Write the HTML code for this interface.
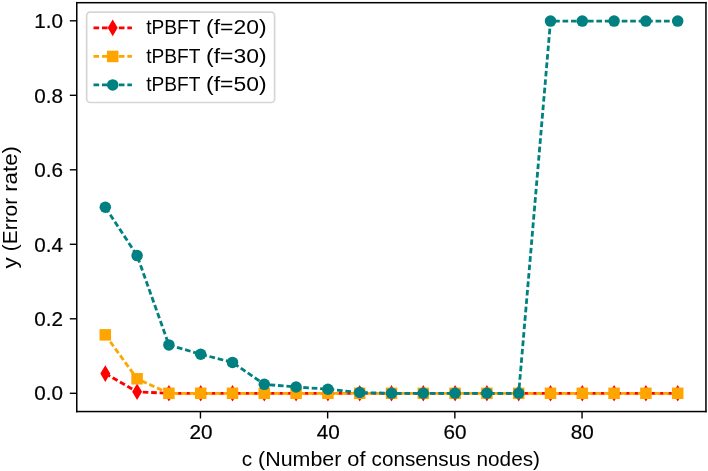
<!DOCTYPE html>
<html lang="en">
<head>
<meta charset="utf-8">
<title>tPBFT error rate vs. number of consensus nodes</title>
<style>
html,body{margin:0;padding:0;background:#ffffff;}
body{width:708px;height:471px;overflow:hidden;}
svg{display:block;will-change:transform;}
svg text{font-family:"Liberation Sans",sans-serif;font-size:20px;fill:#000000;}
svg text.tick{stroke:#000000;stroke-width:0.2px;}
</style>
</head>
<body>
<svg width="708" height="471" viewBox="0 0 708 471">
<rect x="0" y="0" width="708" height="471" fill="#ffffff"/>
<!-- series f=20 -->
<g>
<polyline points="105.3,373.573 137.1,391.811 168.9,393.3 200.7,393.3 232.5,393.3 264.3,393.3 296.1,393.3 327.9,393.3 359.7,393.3 391.5,393.3 423.3,393.3 455.1,393.3 486.9,393.3 518.7,393.3 550.5,393.3 582.3,393.3 614.1,393.3 645.9,393.3 677.7,393.3" fill="none" stroke="#ff0000" stroke-width="2.82" stroke-dasharray="5.637 2.818" stroke-dashoffset="0" stroke-linejoin="miter"/>
<path d="M105.3 365.265L110.285 373.573L105.3 381.882L100.315 373.573Z" fill="#ff0000"/>
<path d="M137.1 383.503L142.085 391.811L137.1 400.12L132.115 391.811Z" fill="#ff0000"/>
<path d="M168.9 384.991L173.885 393.3L168.9 401.609L163.915 393.3Z" fill="#ff0000"/>
<path d="M200.7 384.991L205.685 393.3L200.7 401.609L195.715 393.3Z" fill="#ff0000"/>
<path d="M232.5 384.991L237.485 393.3L232.5 401.609L227.515 393.3Z" fill="#ff0000"/>
<path d="M264.3 384.991L269.285 393.3L264.3 401.609L259.315 393.3Z" fill="#ff0000"/>
<path d="M296.1 384.991L301.085 393.3L296.1 401.609L291.115 393.3Z" fill="#ff0000"/>
<path d="M327.9 384.991L332.885 393.3L327.9 401.609L322.915 393.3Z" fill="#ff0000"/>
<path d="M359.7 384.991L364.685 393.3L359.7 401.609L354.715 393.3Z" fill="#ff0000"/>
<path d="M391.5 384.991L396.485 393.3L391.5 401.609L386.515 393.3Z" fill="#ff0000"/>
<path d="M423.3 384.991L428.285 393.3L423.3 401.609L418.315 393.3Z" fill="#ff0000"/>
<path d="M455.1 384.991L460.085 393.3L455.1 401.609L450.115 393.3Z" fill="#ff0000"/>
<path d="M486.9 384.991L491.885 393.3L486.9 401.609L481.915 393.3Z" fill="#ff0000"/>
<path d="M518.7 384.991L523.685 393.3L518.7 401.609L513.715 393.3Z" fill="#ff0000"/>
<path d="M550.5 384.991L555.485 393.3L550.5 401.609L545.515 393.3Z" fill="#ff0000"/>
<path d="M582.3 384.991L587.285 393.3L582.3 401.609L577.315 393.3Z" fill="#ff0000"/>
<path d="M614.1 384.991L619.085 393.3L614.1 401.609L609.115 393.3Z" fill="#ff0000"/>
<path d="M645.9 384.991L650.885 393.3L645.9 401.609L640.915 393.3Z" fill="#ff0000"/>
<path d="M677.7 384.991L682.685 393.3L677.7 401.609L672.715 393.3Z" fill="#ff0000"/>
</g>
<!-- series f=30 -->
<g>
<polyline points="105.3,334.865 137.1,378.784 168.9,393.3 200.7,393.3 232.5,393.3 264.3,393.3 296.1,393.3 327.9,393.3 359.7,393.3 391.5,393.3 423.3,393.3 455.1,393.3 486.9,393.3 518.7,393.3 550.5,393.3 582.3,393.3 614.1,393.3 645.9,393.3 677.7,393.3" fill="none" stroke="#ffa500" stroke-width="2.82" stroke-dasharray="5.637 2.818" stroke-dashoffset="0" stroke-linejoin="miter"/>
<rect x="99.55" y="329.115" width="11.5" height="11.5" fill="#ffa500"/>
<rect x="131.35" y="373.034" width="11.5" height="11.5" fill="#ffa500"/>
<rect x="163.15" y="387.55" width="11.5" height="11.5" fill="#ffa500"/>
<rect x="194.95" y="387.55" width="11.5" height="11.5" fill="#ffa500"/>
<rect x="226.75" y="387.55" width="11.5" height="11.5" fill="#ffa500"/>
<rect x="258.55" y="387.55" width="11.5" height="11.5" fill="#ffa500"/>
<rect x="290.35" y="387.55" width="11.5" height="11.5" fill="#ffa500"/>
<rect x="322.15" y="387.55" width="11.5" height="11.5" fill="#ffa500"/>
<rect x="353.95" y="387.55" width="11.5" height="11.5" fill="#ffa500"/>
<rect x="385.75" y="387.55" width="11.5" height="11.5" fill="#ffa500"/>
<rect x="417.55" y="387.55" width="11.5" height="11.5" fill="#ffa500"/>
<rect x="449.35" y="387.55" width="11.5" height="11.5" fill="#ffa500"/>
<rect x="481.15" y="387.55" width="11.5" height="11.5" fill="#ffa500"/>
<rect x="512.95" y="387.55" width="11.5" height="11.5" fill="#ffa500"/>
<rect x="544.75" y="387.55" width="11.5" height="11.5" fill="#ffa500"/>
<rect x="576.55" y="387.55" width="11.5" height="11.5" fill="#ffa500"/>
<rect x="608.35" y="387.55" width="11.5" height="11.5" fill="#ffa500"/>
<rect x="640.15" y="387.55" width="11.5" height="11.5" fill="#ffa500"/>
<rect x="671.95" y="387.55" width="11.5" height="11.5" fill="#ffa500"/>
</g>
<!-- series f=50 -->
<g>
<polyline points="105.3,207.2 137.1,255.586 168.9,344.914 200.7,354.219 232.5,362.407 264.3,384.367 296.1,386.973 327.9,389.206 359.7,392.556 391.5,393.3 423.3,393.3 455.1,393.3 486.9,393.3 518.7,393.3" fill="none" stroke="#008080" stroke-width="2.82" stroke-dasharray="5.637 2.818" stroke-dashoffset="7.955" stroke-linejoin="miter"/>
<polyline points="518.7,393.3 550.5,21.1 582.3,21.1 614.1,21.1 645.9,21.1 677.7,21.1" fill="none" stroke="#008080" stroke-width="2.82" stroke-dasharray="5.637 2.818" stroke-dashoffset="3.306" stroke-linejoin="miter"/>
<circle cx="105.3" cy="207.2" r="5.75" fill="#008080"/>
<circle cx="137.1" cy="255.586" r="5.75" fill="#008080"/>
<circle cx="168.9" cy="344.914" r="5.75" fill="#008080"/>
<circle cx="200.7" cy="354.219" r="5.75" fill="#008080"/>
<circle cx="232.5" cy="362.407" r="5.75" fill="#008080"/>
<circle cx="264.3" cy="384.367" r="5.75" fill="#008080"/>
<circle cx="296.1" cy="386.973" r="5.75" fill="#008080"/>
<circle cx="327.9" cy="389.206" r="5.75" fill="#008080"/>
<circle cx="359.7" cy="392.556" r="5.75" fill="#008080"/>
<circle cx="391.5" cy="393.3" r="5.75" fill="#008080"/>
<circle cx="423.3" cy="393.3" r="5.75" fill="#008080"/>
<circle cx="455.1" cy="393.3" r="5.75" fill="#008080"/>
<circle cx="486.9" cy="393.3" r="5.75" fill="#008080"/>
<circle cx="518.7" cy="393.3" r="5.75" fill="#008080"/>
<circle cx="550.5" cy="21.1" r="5.75" fill="#008080"/>
<circle cx="582.3" cy="21.1" r="5.75" fill="#008080"/>
<circle cx="614.1" cy="21.1" r="5.75" fill="#008080"/>
<circle cx="645.9" cy="21.1" r="5.75" fill="#008080"/>
<circle cx="677.7" cy="21.1" r="5.75" fill="#008080"/>
</g>
<g stroke="#000000" stroke-width="1.4" fill="none">
<line x1="200.45" y1="411.55" x2="200.45" y2="418.45"/>
<line x1="327.65" y1="411.55" x2="327.65" y2="418.45"/>
<line x1="454.85" y1="411.55" x2="454.85" y2="418.45"/>
<line x1="582.05" y1="411.55" x2="582.05" y2="418.45"/>
<line x1="69.8" y1="393.3" x2="76.77" y2="393.3"/>
<line x1="69.8" y1="318.8" x2="76.77" y2="318.8"/>
<line x1="69.8" y1="244.3" x2="76.77" y2="244.3"/>
<line x1="69.8" y1="169.8" x2="76.77" y2="169.8"/>
<line x1="69.8" y1="95.3" x2="76.77" y2="95.3"/>
<line x1="69.8" y1="20.8" x2="76.77" y2="20.8"/>
</g>
<g fill="#000000">
<rect x="76.02" y="1.95" width="1.5" height="410.35"/>
<rect x="705.2" y="1.95" width="1.5" height="410.35"/>
<rect x="76.02" y="1.95" width="630.68" height="1.5"/>
<rect x="76.02" y="410.8" width="630.68" height="1.5"/>
</g>
<text x="201" y="439.2" text-anchor="middle" textLength="23.038" lengthAdjust="spacingAndGlyphs" class="tick">20</text>
<text x="328.2" y="439.2" text-anchor="middle" textLength="23.038" lengthAdjust="spacingAndGlyphs" class="tick">40</text>
<text x="455" y="439.2" text-anchor="middle" textLength="23.038" lengthAdjust="spacingAndGlyphs" class="tick">60</text>
<text x="582.2" y="439.2" text-anchor="middle" textLength="23.038" lengthAdjust="spacingAndGlyphs" class="tick">80</text>
<text x="62.9" y="400.45" text-anchor="end" textLength="28.741" lengthAdjust="spacingAndGlyphs" class="tick">0.0</text>
<text x="62.9" y="326.01" text-anchor="end" textLength="28.741" lengthAdjust="spacingAndGlyphs" class="tick">0.2</text>
<text x="62.9" y="251.57" text-anchor="end" textLength="28.741" lengthAdjust="spacingAndGlyphs" class="tick">0.4</text>
<text x="62.9" y="177.13" text-anchor="end" textLength="28.741" lengthAdjust="spacingAndGlyphs" class="tick">0.6</text>
<text x="62.9" y="102.69" text-anchor="end" textLength="28.741" lengthAdjust="spacingAndGlyphs" class="tick">0.8</text>
<text x="62.9" y="28.25" text-anchor="end" textLength="28.741" lengthAdjust="spacingAndGlyphs" class="tick">1.0</text>
<text y="465.6"><tspan x="241.7" textLength="10.39" lengthAdjust="spacingAndGlyphs">c</tspan> <tspan x="258.09" textLength="83.25" lengthAdjust="spacingAndGlyphs">(Number</tspan> <tspan x="347.35" textLength="18.21" lengthAdjust="spacingAndGlyphs">of</tspan> <tspan x="371.56" textLength="99" lengthAdjust="spacingAndGlyphs">consensus</tspan> <tspan x="476.57" textLength="63.4" lengthAdjust="spacingAndGlyphs">nodes)</tspan></text>
<text y="0" transform="translate(16.6 268.4) rotate(-90)"><tspan x="0" textLength="11.18" lengthAdjust="spacingAndGlyphs">y</tspan> <tspan x="17.18" textLength="53.41" lengthAdjust="spacingAndGlyphs">(Error</tspan> <tspan x="76.59" textLength="45.74" lengthAdjust="spacingAndGlyphs">rate)</tspan></text>
<rect x="86.65" y="12.2" width="187.95" height="90.3" rx="3.5" ry="3.5" fill="#ffffff" fill-opacity="0.8" stroke="#cccccc" stroke-opacity="0.8" stroke-width="1.7"/>
<line x1="93.5" y1="27.85" x2="131.9" y2="27.85" stroke="#ff0000" stroke-width="2.82" stroke-dasharray="5.637 2.818"/>
<path d="M112.7 19.541L117.685 27.85L112.7 36.159L107.715 27.85Z" fill="#ff0000"/>
<text y="34.15"><tspan x="146.3" textLength="53.83" lengthAdjust="spacingAndGlyphs">tPBFT</tspan> <tspan x="206.13" textLength="60.5" lengthAdjust="spacingAndGlyphs">(f=20)</tspan></text>
<line x1="93.5" y1="56.45" x2="131.9" y2="56.45" stroke="#ffa500" stroke-width="2.82" stroke-dasharray="5.637 2.818"/>
<rect x="106.95" y="50.7" width="11.5" height="11.5" fill="#ffa500"/>
<text y="62.75"><tspan x="146.3" textLength="53.83" lengthAdjust="spacingAndGlyphs">tPBFT</tspan> <tspan x="206.13" textLength="60.5" lengthAdjust="spacingAndGlyphs">(f=30)</tspan></text>
<line x1="93.5" y1="84.9" x2="131.9" y2="84.9" stroke="#008080" stroke-width="2.82" stroke-dasharray="5.637 2.818"/>
<circle cx="112.7" cy="84.9" r="5.75" fill="#008080"/>
<text y="91.2"><tspan x="146.3" textLength="53.83" lengthAdjust="spacingAndGlyphs">tPBFT</tspan> <tspan x="206.13" textLength="60.5" lengthAdjust="spacingAndGlyphs">(f=50)</tspan></text>
</svg>
</body>
</html>
